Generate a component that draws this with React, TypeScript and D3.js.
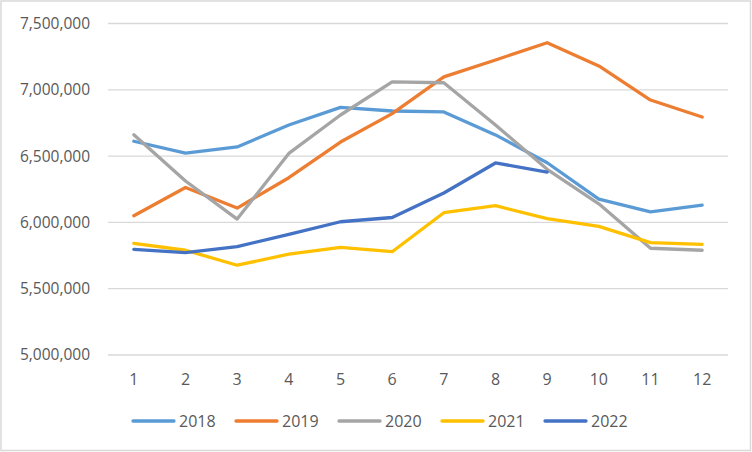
import React, { useEffect, useRef } from "react";
import * as d3 from "d3";

const months = ["1", "2", "3", "4", "5", "6", "7", "8", "9", "10", "11", "12"];
const yTicks = [5000000, 5500000, 6000000, 6500000, 7000000, 7500000];

const v2018 = [6612000, 6523000, 6569000, 6735000, 6867000, 6840000, 6833000, 6660000, 6450000, 6175000, 6080000, 6130000];
const v2019 = [6050000, 6263000, 6108000, 6337000, 6606000, 6820000, 7097000, 7225000, 7355000, 7180000, 6923000, 6795000];
const v2020 = [6661000, 6312000, 6025000, 6520000, 6810000, 7060000, 7053000, 6735000, 6400000, 6140000, 5805000, 5790000];
const v2021 = [5842000, 5790000, 5677000, 5760000, 5812000, 5779000, 6073000, 6126000, 6028000, 5970000, 5847000, 5835000];
const v2022 = [5797000, 5772000, 5817000, 5910000, 6005000, 6037000, 6222000, 6448000, 6380000];

const seriesNames = ["2018", "2019", "2020", "2021", "2022"];
const seriesValues = [v2018, v2019, v2020, v2021, v2022];
const colors = ["#5B9BD5", "#ED7D31", "#A5A5A5", "#FFC000", "#4472C4"];

const W = 752;
const H = 452;
const FONT = "'Open Sans', sans-serif";
const TEXT = "#595959";

export default function App() {
  const ref = useRef<SVGSVGElement | null>(null);

  useEffect(() => {
    document.body.style.margin = "0";
    const svg = d3.select(ref.current);
    svg.selectAll("*").remove();

    svg
      .append("rect")
      .attr("x", 1)
      .attr("y", 1)
      .attr("width", W - 2.5)
      .attr("height", H - 2.5)
      .attr("fill", "#fff")
      .attr("stroke", "#d9d9d9")
      .attr("stroke-width", 1.5);

    const x = d3.scaleBand().domain(months).range([108, 728]);
    const y = d3.scaleLinear().domain([5000000, 7500000]).range([355, 23.5]);
    const fmt = d3.format(",");

    // gridlines
    svg
      .append("g")
      .selectAll("line")
      .data(yTicks)
      .join("line")
      .attr("x1", 108)
      .attr("x2", 728)
      .attr("y1", (d) => y(d))
      .attr("y2", (d) => y(d))
      .attr("stroke", "#d9d9d9")
      .attr("stroke-width", 1.3);

    // y labels
    svg
      .append("g")
      .selectAll("text")
      .data(yTicks)
      .join("text")
      .attr("x", 90)
      .attr("y", (d) => y(d))
      .attr("dy", "0.35em")
      .attr("text-anchor", "end")
      .attr("font-family", FONT)
      .attr("font-size", 15.5)
      .attr("fill", TEXT)
      .text((d) => fmt(d));

    // x labels
    svg
      .append("g")
      .selectAll("text")
      .data(months)
      .join("text")
      .attr("x", (d) => x(d)! + x.bandwidth() / 2)
      .attr("y", 379.5)
      .attr("dy", "0.35em")
      .attr("text-anchor", "middle")
      .attr("font-family", FONT)
      .attr("font-size", 16)
      .attr("fill", TEXT)
      .text((d) => d);

    const line = d3
      .line<number>()
      .x((_, i) => x(months[i])! + x.bandwidth() / 2)
      .y((d) => y(d));

    seriesValues.forEach((vals, i) => {
      svg
        .append("path")
        .datum(vals)
        .attr("d", line)
        .attr("fill", "none")
        .attr("stroke", colors[i])
        .attr("stroke-width", 3.3)
        .attr("stroke-linejoin", "round")
        .attr("stroke-linecap", "round");
    });

    // legend
    const lg = svg.append("g");
    seriesNames.forEach((name, i) => {
      const lx = 133 + i * 103;
      lg.append("line")
        .attr("x1", lx)
        .attr("x2", lx + 41)
        .attr("y1", 421)
        .attr("y2", 421)
        .attr("stroke", colors[i])
        .attr("stroke-width", 3.3)
        .attr("stroke-linecap", "round");
      lg.append("text")
        .attr("x", lx + 46)
        .attr("y", 421)
        .attr("dy", "0.35em")
        .attr("font-family", FONT)
        .attr("font-size", 16)
        .attr("fill", TEXT)
        .text(name);
    });
  }, []);

  return <svg ref={ref} width={W} height={H} style={{ display: "block" }} />;
}
